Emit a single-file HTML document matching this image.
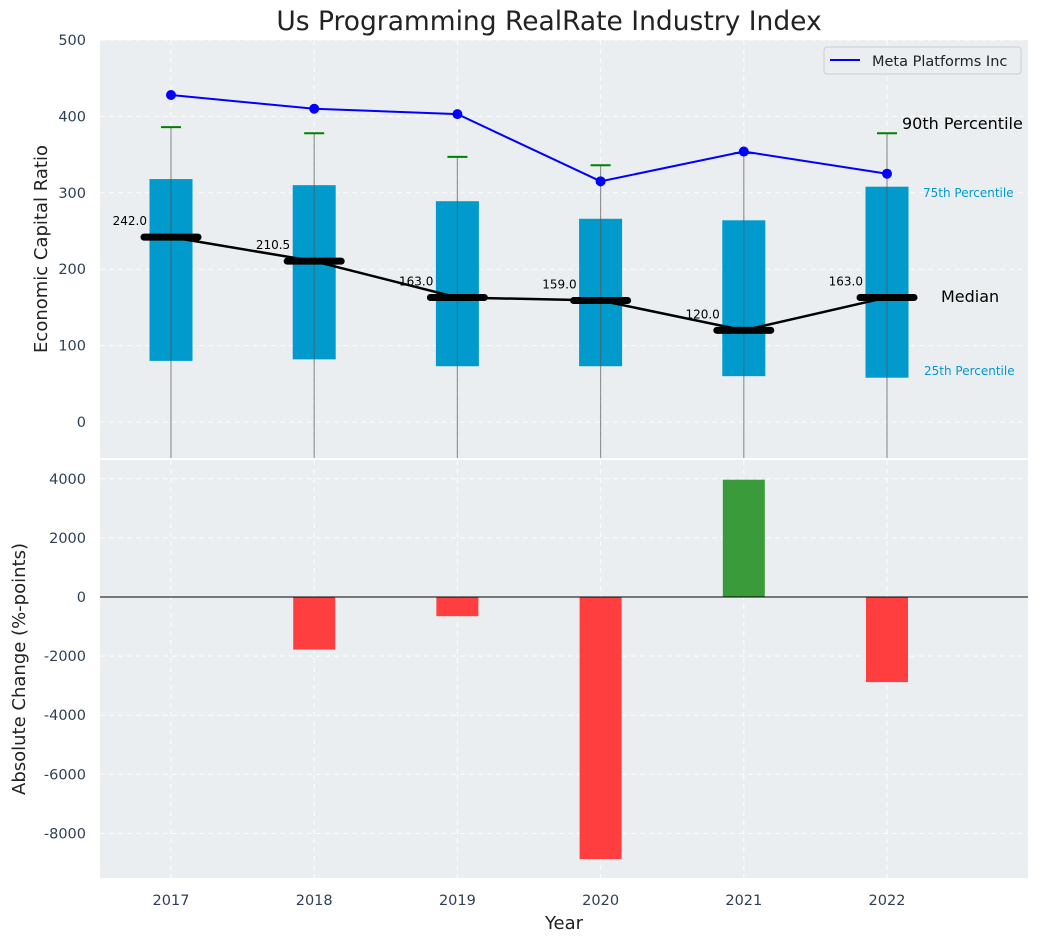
<!DOCTYPE html>
<html><head><meta charset="utf-8"><style>
body{margin:0;background:#fff;font-family:"Liberation Sans","DejaVu Sans",sans-serif}
svg text{font-family:"DejaVu Sans","Liberation Sans",sans-serif}
</style></head><body>
<svg id="c" width="1039" height="942" xmlns="http://www.w3.org/2000/svg"></svg>
<script>
const years=["2017","2018","2019","2020","2021","2022"];
const q1=[80,82,73,73,60,58];
const q3=[318,310,289,266,264,308];
const p90=[386,378,347,336,352,378];
const medians=[242,210.5,163,159,120,163];
const meta=[428,410,403,315,354,325];
const change=[0,-1780,-650,-8870,3970,-2880];
const topTicks=[0,100,200,300,400,500];
const botTicks=[-8000,-6000,-4000,-2000,0,2000,4000];
const NS="http://www.w3.org/2000/svg";
const svg=document.getElementById('c');
function el(t,a,p){const e=document.createElementNS(NS,t);for(const k in a)e.setAttribute(k,a[k]);(p||svg).appendChild(e);return e;}
const X=i=>171+i*143.2;
const Yt=v=>422-0.764*v;
const Yb=v=>597-0.02955*v;
let bg=el('rect',{x:100,y:40,width:928,height:418,fill:'#eaeef0'});

let bg2=el('rect',{x:100,y:460,width:928,height:418,fill:'#eaeef0'});

const grid={stroke:'#fff','stroke-dasharray':'5,4','stroke-width':1,opacity:0.9};
topTicks.forEach(v=>{const y=Yt(v);el('line',Object.assign({x1:100,x2:1028,y1:y,y2:y},grid));
 const t=el('text',{x:86,y:y+5,'text-anchor':'end','font-size':14.5,fill:'#2e3f55'});t.textContent=v;
 });
botTicks.forEach(v=>{const y=Yb(v);el('line',Object.assign({x1:100,x2:1028,y1:y,y2:y},grid));
 const t=el('text',{x:86,y:y+5,'text-anchor':'end','font-size':14.5,fill:'#2e3f55'});t.textContent=v;
 });
years.forEach((y,i)=>{el('line',Object.assign({x1:X(i),x2:X(i),y1:40,y2:458},grid));el('line',Object.assign({x1:X(i),x2:X(i),y1:460,y2:878},grid));
 const t=el('text',{x:X(i),y:905,'text-anchor':'middle','font-size':14.5,fill:'#2e3f55'});t.textContent=y;
 });
years.forEach((y,i)=>{
 const b=el('rect',{x:X(i)-21.5,y:Yt(q3[i]),width:43,height:Yt(q1[i])-Yt(q3[i]),fill:'#009acd'});
 
 const w=el('line',{x1:X(i),x2:X(i),y1:Yt(p90[i]),y2:458,stroke:'#555',opacity:0.6,'stroke-width':1.2});
 
 const c=el('line',{x1:X(i)-10,x2:X(i)+10,y1:Yt(p90[i]),y2:Yt(p90[i]),stroke:'#008000','stroke-width':2});
 
});
const ml=el('polyline',{points:medians.map((v,i)=>X(i)+','+Yt(v)).join(' '),fill:'none',stroke:'#000','stroke-width':2.5});

medians.forEach((v,i)=>{
 const m=el('line',{x1:X(i)-27,x2:X(i)+27,y1:Yt(v),y2:Yt(v),stroke:'#000','stroke-width':7,'stroke-linecap':'round'});
 
 const t=el('text',{x:X(i)-24,y:Yt(v)-12,'text-anchor':'end','font-size':12,fill:'#000'});t.textContent=v.toFixed(1);
 
});
const mt=el('polyline',{points:meta.map((v,i)=>X(i)+','+Yt(v)).join(' '),fill:'none',stroke:'#0000ff','stroke-width':2});

meta.forEach((v,i)=>{const p=el('circle',{cx:X(i),cy:Yt(v),r:5,fill:'#0000ff'});
 });
function txt(x,y,s,size,fill,name,anchor){const t=el('text',{x:x,y:y,'font-size':size,fill:fill,'text-anchor':anchor||'start'});t.textContent=s;return t;}
txt(902,129,'90th Percentile',16,'#000','p90-annotation');
txt(923,197,'75th Percentile',12,'#009acd','p75-annotation');
txt(941,302,'Median',16,'#000','median-annotation');
txt(924,375,'25th Percentile',12,'#009acd','p25-annotation');
const lg=el('g',{});
el('rect',{x:824,y:47,width:197,height:27,rx:3,fill:'#eaeef0',stroke:'#ccc'},lg);
el('line',{x1:830,x2:860,y1:60,y2:60,stroke:'#0000ff','stroke-width':2},lg);
const lt=el('text',{x:872,y:66,'font-size':14.5,fill:'#222'},lg);lt.textContent='Meta Platforms Inc';

change.forEach((v,i)=>{if(v===0)return;const y0=Yb(Math.max(v,0)),y1=Yb(Math.min(v,0));
 const b=el('rect',{x:X(i)-21,y:y0,width:42,height:y1-y0,fill:v>0?'#3a9b3a':'#ff3f3f'});
 });
el('line',{x1:100,x2:1028,y1:Yb(0),y2:Yb(0),stroke:'#000','stroke-width':1});
txt(549,30,'Us Programming RealRate Industry Index',26.5,'#222','chart-title','middle');
txt(564,929,'Year',18,'#222','x-axis-title','middle');
let yt=txt(0,0,'Economic Capital Ratio',18,'#222','y-axis-title-top','middle');yt.setAttribute('transform','translate(47,249) rotate(-90)');
let yb=txt(0,0,'Absolute Change (%-points)',18,'#222','y-axis-title-bottom','middle');yb.setAttribute('transform','translate(25,669) rotate(-90)');
</script>
</body></html>
